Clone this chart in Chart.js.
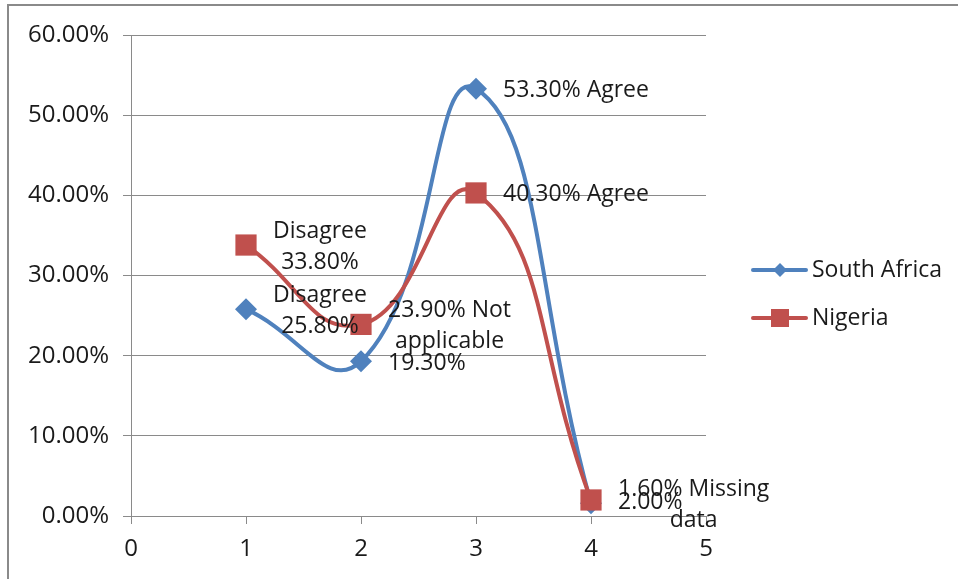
<!DOCTYPE html>
<html>
<head>
<meta charset="utf-8">
<script src="https://cdn.jsdelivr.net/npm/chart.js@4.4.1/dist/chart.umd.min.js"></script>
<style>
  html, body { margin: 0; padding: 0; background: #fff; overflow: hidden; }
  #wrap { position: relative; width: 958px; height: 579px; }
  #frame { position: absolute; left: 7px; top: 4px; width: 1200px; height: 900px; border: 2px solid #8a8a8a; }
  #holder { position: absolute; left: 0; top: 0; width: 958px; height: 579px; }
</style>
</head>
<body>
<div id="wrap">
  <div id="frame"></div>
  <div id="holder"><canvas id="c"></canvas></div>
</div>
<script>
// data
const xValues = [1, 2, 3, 4];
const southAfrica = [25.8, 19.3, 53.3, 1.6];
const nigeria = [33.8, 23.9, 40.3, 2.0];
const southAfricaLabels = ['Disagree\n25.80%', '19.30%', '53.30% Agree', '1.60% Missing\ndata'];
const nigeriaLabels = ['Disagree\n33.80%', '23.90% Not\napplicable', '40.30% Agree', '2.00%'];
const xTicks = [0, 1, 2, 3, 4, 5];
const yTicks = [0, 10, 20, 30, 40, 50, 60];

const FONT = '"Open Sans", "Noto Sans", sans-serif';
const TEXT = '#1a1a1a';
const GRID = '#8a8a8a';
const BLUE = '#4f81bd';
const RED = '#c0504d';

function toPoints(vals) {
  return vals.map((v, i) => ({ x: xValues[i], y: v }));
}

// excel-like "right" data labels: block starts just right of the point, centered vertically
const dataLabels = {
  id: 'dataLabels',
  afterDatasetsDraw(chart) {
    const ctx = chart.ctx;
    ctx.save();
    ctx.font = '23px ' + FONT;
    ctx.fillStyle = TEXT;
    ctx.textBaseline = 'middle';
    ctx.textAlign = 'center';
    const lineH = 31;
    chart.data.datasets.forEach((ds, di) => {
      const meta = chart.getDatasetMeta(di);
      meta.data.forEach((pt, i) => {
        const lines = ds.labels[i].split('\n');
        const w = Math.max(...lines.map(l => ctx.measureText(l).width));
        const cx = pt.x + 27 + w / 2;
        const top = pt.y + 2 - (lines.length - 1) * lineH / 2;
        lines.forEach((l, k) => ctx.fillText(l, cx, top + k * lineH));
      });
    });
    ctx.restore();
  }
};

// legend on the right: line sample with marker in the middle
const sideLegend = {
  id: 'sideLegend',
  afterDraw(chart) {
    const ctx = chart.ctx;
    const items = [
      { name: 'South Africa', color: BLUE, shape: 'diamond', y: 270 },
      { name: 'Nigeria', color: RED, shape: 'square', y: 318 }
    ];
    ctx.save();
    items.forEach(it => {
      ctx.strokeStyle = it.color;
      ctx.lineWidth = 4;
      ctx.lineCap = 'round';
      ctx.beginPath();
      ctx.moveTo(753, it.y);
      ctx.lineTo(806, it.y);
      ctx.stroke();
      ctx.fillStyle = it.color;
      ctx.beginPath();
      if (it.shape === 'diamond') {
        ctx.moveTo(780, it.y - 7);
        ctx.lineTo(787, it.y);
        ctx.lineTo(780, it.y + 7);
        ctx.lineTo(773, it.y);
        ctx.closePath();
      } else {
        ctx.rect(771, it.y - 9, 18, 18);
      }
      ctx.fill();
      ctx.font = '23px ' + FONT;
      ctx.fillStyle = TEXT;
      ctx.textAlign = 'left';
      ctx.textBaseline = 'middle';
      ctx.fillText(it.name, 812, it.y);
    });
    ctx.restore();
  }
};

new Chart(document.getElementById('c'), {
  type: 'line',
  data: {
    datasets: [
      {
        label: 'South Africa',
        data: toPoints(southAfrica),
        labels: southAfricaLabels,
        borderColor: BLUE,
        backgroundColor: BLUE,
        borderWidth: 4,
        tension: 0.48,
        pointStyle: 'rectRot',
        pointRadius: 11,
        pointBorderWidth: 0,
        pointBackgroundColor: BLUE,
        order: 1
      },
      {
        label: 'Nigeria',
        data: toPoints(nigeria),
        labels: nigeriaLabels,
        borderColor: RED,
        backgroundColor: RED,
        borderWidth: 4,
        tension: 0.48,
        pointStyle: 'rect',
        pointRadius: 15,
        pointBorderWidth: 0,
        pointBackgroundColor: RED,
        order: 0
      }
    ]
  },
  options: {
    responsive: true,
    maintainAspectRatio: false,
    animation: false,
    layout: { padding: { top: 35, right: 252, left: 0, bottom: 0 } },
    plugins: {
      legend: { display: false },
      tooltip: { enabled: false }
    },
    scales: {
      x: {
        type: 'linear',
        min: xTicks[0],
        max: xTicks[xTicks.length - 1],
        afterBuildTicks: s => { s.ticks = xTicks.map(v => ({ value: v })); },
        afterFit: s => { s.height = 63; },
        grid: { drawOnChartArea: false, drawTicks: true, tickLength: 8, color: GRID },
        border: { color: GRID, width: 1 },
        ticks: { color: TEXT, font: { family: FONT, size: 24 }, padding: 11 }
      },
      y: {
        min: yTicks[0],
        max: yTicks[yTicks.length - 1],
        afterBuildTicks: s => { s.ticks = yTicks.map(v => ({ value: v })); },
        afterFit: s => { s.width = 131; },
        grid: { color: GRID, tickLength: 8 },
        border: { color: GRID, width: 1 },
        ticks: {
          color: TEXT,
          font: { family: FONT, size: 24 },
          padding: 14,
          callback: v => v.toFixed(2) + '%'
        }
      }
    }
  },
  plugins: [dataLabels, sideLegend]
});
</script>
</body>
</html>
